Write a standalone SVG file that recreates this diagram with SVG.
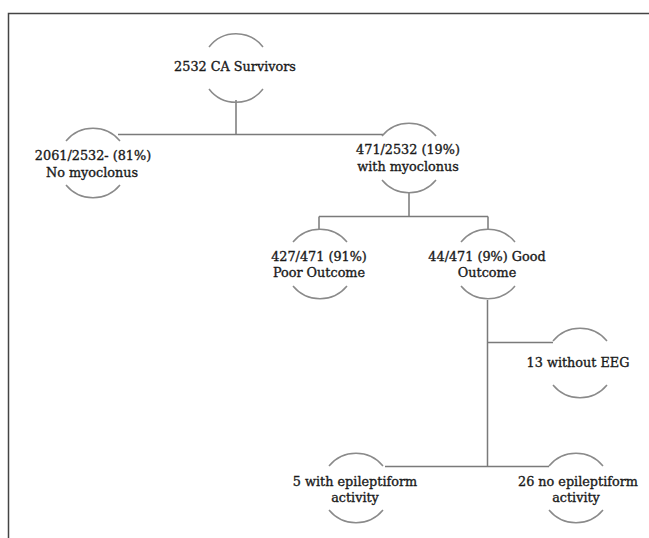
<svg xmlns="http://www.w3.org/2000/svg" width="649" height="538" viewBox="0 0 649 538">
<style>
.arc{fill:none;stroke:#8a8a8a;stroke-width:1.5}
.ln{fill:none;stroke:#7a7a7a;stroke-width:1.5}
.frame{fill:none;stroke:#444;stroke-width:1.5}
text{font-family:"DejaVu Serif","Liberation Serif",serif;font-size:12.8px;fill:#1a1a1a;stroke:#1a1a1a;stroke-width:0.35;text-anchor:middle}
</style>
<rect width="649" height="538" fill="#fff"/>
<path class="frame" d="M8.5,538 V13.5 H649"/>
<g id="connectors">
<path class="ln" d="M236,100 V134.5 M118,134.5 H383"/>
<path class="ln" d="M409,193 V216.5 M319,216.5 H488 M319,216.5 V230 M488,216.5 V230"/>
<path class="ln" d="M487.5,300 V466.5 M487.5,342.5 H553 M385,466.5 H549"/>
</g>
<g id="n1">
<path class="arc" d="M209,47 A34,34 0 0 1 263,47 M209,89 A34,34 0 0 0 263,89"/>
<text x="235" y="71">2532 CA Survivors</text>
</g>
<g id="n2">
<path class="arc" d="M66,141 A35,35 0 0 1 120,141 M66,185 A35,35 0 0 0 120,185"/>
<text x="93" y="160">2061/2532- (81%)</text>
<text x="92" y="177">No myoclonus</text>
</g>
<g id="n3">
<path class="arc" d="M382,136 A35,35 0 0 1 436,136 M382,180 A35,35 0 0 0 436,180"/>
<text x="408" y="154">471/2532 (19%)</text>
<text x="408" y="171">with myoclonus</text>
</g>
<g id="n4">
<path class="arc" d="M293,242 A35,35 0 0 1 347,242 M293,286 A35,35 0 0 0 347,286"/>
<text x="319" y="261">427/471 (91%)</text>
<text x="319" y="277">Poor Outcome</text>
</g>
<g id="n5">
<path class="arc" d="M461,242 A35,35 0 0 1 515,242 M461,286 A35,35 0 0 0 515,286"/>
<text x="487" y="261">44/471 (9%) Good</text>
<text x="487" y="277">Outcome</text>
</g>
<g id="n6">
<path class="arc" d="M553,341 A35,35 0 0 1 607,341 M553,385 A35,35 0 0 0 607,385"/>
<text x="578" y="367">13 without EEG</text>
</g>
<g id="n7">
<path class="arc" d="M329,466 A35,35 0 0 1 383,466 M329,510 A35,35 0 0 0 383,510"/>
<text x="355" y="486">5 with epileptiform</text>
<text x="355" y="502">activity</text>
</g>
<g id="n8">
<path class="arc" d="M549,466 A35,35 0 0 1 603,466 M549,510 A35,35 0 0 0 603,510"/>
<text x="578" y="486">26 no epileptiform</text>
<text x="576" y="502">activity</text>
</g>
</svg>
